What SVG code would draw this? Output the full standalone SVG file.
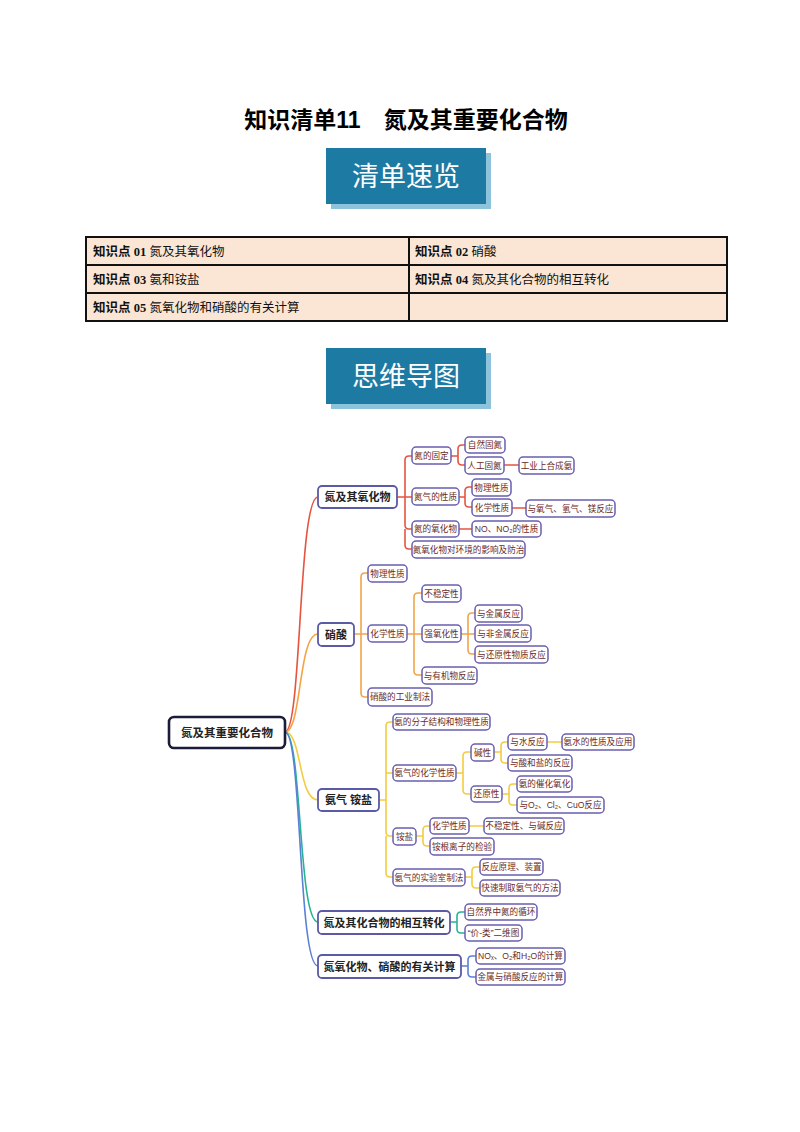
<svg xmlns="http://www.w3.org/2000/svg" width="800" height="1132" viewBox="0 0 800 1132">
<style>
text{font-family:"Liberation Sans","Noto Sans CJK SC",sans-serif}
.title{font-size:23px;font-weight:bold;fill:#000}
.ban{fill:#1d7aa3}.bans{fill:#8ec3dc}
.bt{font-size:27px;fill:#fff;text-anchor:middle}
.cell{fill:#fbe6d5;stroke:#111;stroke-width:2}
.ct{font-size:12.5px;fill:#111}
.cb{font-weight:bold;font-family:"Liberation Serif","Noto Sans CJK SC",serif}
.n rect{fill:#fff;stroke:#6a5fb0;stroke-width:1.5}
.n text{font-size:8.6px;fill:#6b2b1f;text-anchor:middle}
.m rect{fill:#fff;stroke:#5b5aa6;stroke-width:1.8}
.m text{font-size:11px;font-weight:bold;fill:#222;text-anchor:middle}
.r rect{fill:#fff;stroke:#1b1b3a;stroke-width:2.6}
.r text{font-size:11.5px;font-weight:bold;fill:#222;text-anchor:middle}
#links path{fill:none;stroke-width:1.6}
.red{stroke:#e5543f}.org{stroke:#f2a44a}.yel{stroke:#f3cc3f}.grn{stroke:#27b394}.blu{stroke:#5b80d8}
</style>
<text class="title" x="406" y="128" text-anchor="middle">知识清单11　氮及其重要化合物</text>
<g id="banner1"><rect class="bans" x="331" y="153" width="160" height="56"/><rect class="ban" x="326" y="148" width="160" height="56"/><text class="bt" x="406" y="186">清单速览</text></g>
<g id="table">
<rect class="cell" x="86" y="237" width="323" height="28"/><rect class="cell" x="409" y="237" width="318" height="28"/>
<rect class="cell" x="86" y="265" width="323" height="28"/><rect class="cell" x="409" y="265" width="318" height="28"/>
<rect class="cell" x="86" y="293" width="323" height="28"/><rect class="cell" x="409" y="293" width="318" height="28"/>
<text class="ct" x="93" y="256"><tspan class="cb">知识点 01</tspan>  氮及其氧化物</text>
<text class="ct" x="415" y="256"><tspan class="cb">知识点 02</tspan>  硝酸</text>
<text class="ct" x="93" y="284"><tspan class="cb">知识点 03</tspan>  氨和铵盐</text>
<text class="ct" x="415" y="284"><tspan class="cb">知识点 04</tspan>  氮及其化合物的相互转化</text>
<text class="ct" x="93" y="312"><tspan class="cb">知识点 05</tspan>  氮氧化物和硝酸的有关计算</text>
</g>
<g id="banner2"><rect class="bans" x="331" y="353" width="160" height="56"/><rect class="ban" x="326" y="348" width="160" height="56"/><text class="bt" x="406" y="386">思维导图</text></g>

<g id="links">
<path class="red" d="M285,732 C302,732 298,497 318,497"/>
<path class="org" d="M285,732 C302,732 298,634 318,634"/>
<path class="yel" d="M285,732 C302,732 298,800 318,800"/>
<path class="grn" d="M285,732 C302,732 298,922 318,922"/>
<path class="blu" d="M285,732 C302,732 298,966 318,966"/>
<path class="red" d="M397,497 H405 V460 Q405,456 409,456 H412 M405,497 H412 M405,497 V525 Q405,529 409,529 H412 M405,529 V545 Q405,549 409,549 H412"/>
<path class="red" d="M451,456 H458 V449 Q458,445 462,445 H465 M458,456 V461 Q458,465 462,465 H465 M504,465 H519"/>
<path class="red" d="M459,497 H465 V491 Q465,487 469,487 H472 M465,497 V503 Q465,507 469,507 H472 M512,508 H526 M459,529 H472"/>
<path class="org" d="M354,634 H361 V577 Q361,573 365,573 H368 M361,634 H368 M361,634 V693 Q361,697 365,697 H368"/>
<path class="org" d="M407,634 H414 V597 Q414,593 418,593 H422 M414,634 H422 M414,634 V671 Q414,675 418,675 H422"/>
<path class="org" d="M461,634 H468 V617 Q468,613 472,613 H475 M468,634 H475 M468,634 V650 Q468,654 472,654 H475"/>
<path class="yel" d="M379,800 H386 V726 Q386,722 390,722 H393 M386,773 H393 M386,800 V832 Q386,836 390,836 H393 M386,836 V873 Q386,877 390,877 H393"/>
<path class="yel" d="M456,773 H463 V756 Q463,752 467,752 H471 M463,773 V790 Q463,794 467,794 H471"/>
<path class="yel" d="M494,752 H501 V746 Q501,742 505,742 H508 M501,752 V759 Q501,763 505,763 H508 M547,742 H562"/>
<path class="yel" d="M502,794 H509 V788 Q509,784 513,784 H517 M509,794 V801 Q509,805 513,805 H517"/>
<path class="yel" d="M416,836 H423 V830 Q423,826 427,826 H430 M423,836 V842 Q423,846 427,846 H430 M469,826 H484"/>
<path class="yel" d="M465,877 H472 V871 Q472,867 476,867 H480 M472,877 V884 Q472,888 476,888 H480"/>
<path class="grn" d="M450,922 H457 V916 Q457,912 461,912 H465 M457,922 V929 Q457,933 461,933 H465"/>
<path class="blu" d="M461,966 H468 V960 Q468,956 472,956 H476 M468,966 V973 Q468,977 472,977 H476"/>
</g>

<g id="root" class="r"><rect x="169" y="717" width="116" height="31" rx="5"/><text x="227" y="736.5">氮及其重要化合物</text></g>

<g id="m1" class="m"><rect x="318" y="486" width="79" height="22" rx="4"/><text x="357.5" y="501">氮及其氧化物</text></g>
<g id="n_gd" class="n"><rect x="412" y="447" width="39" height="17" rx="4"/><text x="431.5" y="458.5">氮的固定</text></g>
<g id="n_zr" class="n"><rect x="465" y="437" width="40" height="16" rx="4"/><text x="485" y="448">自然固氮</text></g>
<g id="n_rg" class="n"><rect x="465" y="457" width="39" height="17" rx="4"/><text x="484.5" y="468.5">人工固氮</text></g>
<g id="n_gy" class="n"><rect x="519" y="457" width="55" height="17" rx="4"/><text x="546.5" y="468.5">工业上合成氨</text></g>
<g id="n_dq" class="n"><rect x="412" y="488" width="47" height="17" rx="4"/><text x="435.5" y="499.5">氮气的性质</text></g>
<g id="n_wl1" class="n"><rect x="472" y="479" width="39" height="17" rx="4"/><text x="491.5" y="490.5">物理性质</text></g>
<g id="n_hx1" class="n"><rect x="472" y="499" width="40" height="17" rx="4"/><text x="492" y="510.5">化学性质</text></g>
<g id="n_yq" class="n"><rect x="526" y="500" width="89" height="17" rx="4"/><text x="570.5" y="511.5">与氧气、氢气、镁反应</text></g>
<g id="n_yh" class="n"><rect x="412" y="521" width="47" height="16" rx="4"/><text x="435.5" y="532">氮的氧化物</text></g>
<g id="n_no" class="n"><rect x="472" y="521" width="69" height="16" rx="4"/><text x="506.5" y="532">NO、NO₂的性质</text></g>
<g id="n_hj" class="n"><rect x="412" y="541" width="113" height="17" rx="4"/><text x="468.5" y="552.5">氮氧化物对环境的影响及防治</text></g>

<g id="m2" class="m"><rect x="318" y="623" width="36" height="23" rx="4"/><text x="336" y="638.5">硝酸</text></g>
<g id="n_wl2" class="n"><rect x="368" y="565" width="39" height="17" rx="4"/><text x="387.5" y="576.5">物理性质</text></g>
<g id="n_hx2" class="n"><rect x="368" y="625" width="39" height="17" rx="4"/><text x="387.5" y="636.5">化学性质</text></g>
<g id="n_bw" class="n"><rect x="422" y="585" width="39" height="17" rx="4"/><text x="441.5" y="596.5">不稳定性</text></g>
<g id="n_qy" class="n"><rect x="422" y="625" width="39" height="17" rx="4"/><text x="441.5" y="636.5">强氧化性</text></g>
<g id="n_js" class="n"><rect x="475" y="605" width="47" height="17" rx="4"/><text x="498.5" y="616.5">与金属反应</text></g>
<g id="n_fjs" class="n"><rect x="475" y="625" width="56" height="17" rx="4"/><text x="503" y="636.5">与非金属反应</text></g>
<g id="n_hy" class="n"><rect x="475" y="646" width="73" height="17" rx="4"/><text x="511.5" y="657.5">与还原性物质反应</text></g>
<g id="n_yj" class="n"><rect x="422" y="667" width="55" height="17" rx="4"/><text x="449.5" y="678.5">与有机物反应</text></g>
<g id="n_gyz" class="n"><rect x="368" y="688" width="64" height="18" rx="4"/><text x="400" y="700">硝酸的工业制法</text></g>

<g id="m3" class="m"><rect x="318" y="789" width="61" height="22" rx="4"/><text x="348.5" y="804">氨气 铵盐</text></g>
<g id="n_fz" class="n"><rect x="393" y="714" width="97" height="16" rx="4"/><text x="441.5" y="725">氨的分子结构和物理性质</text></g>
<g id="n_aq" class="n"><rect x="393" y="765" width="63" height="16" rx="4"/><text x="424.5" y="776">氨气的化学性质</text></g>
<g id="n_jx" class="n"><rect x="471" y="744" width="23" height="17" rx="4"/><text x="482.5" y="755.5">碱性</text></g>
<g id="n_ys" class="n"><rect x="508" y="734" width="39" height="16" rx="4"/><text x="527.5" y="745">与水反应</text></g>
<g id="n_as" class="n"><rect x="562" y="734" width="72" height="16" rx="4"/><text x="598" y="745">氨水的性质及应用</text></g>
<g id="n_sy" class="n"><rect x="508" y="755" width="64" height="16" rx="4"/><text x="540" y="766">与酸和盐的反应</text></g>
<g id="n_hyx" class="n"><rect x="471" y="786" width="31" height="16" rx="4"/><text x="486.5" y="797">还原性</text></g>
<g id="n_ch" class="n"><rect x="517" y="776" width="55" height="16" rx="4"/><text x="544.5" y="787">氨的催化氧化</text></g>
<g id="n_o2" class="n"><rect x="517" y="797" width="87" height="16" rx="4"/><text x="560.5" y="808">与O₂、Cl₂、CuO反应</text></g>
<g id="n_ay" class="n"><rect x="393" y="828" width="23" height="17" rx="4"/><text x="404.5" y="839.5">铵盐</text></g>
<g id="n_hx3" class="n"><rect x="430" y="818" width="39" height="16" rx="4"/><text x="449.5" y="829">化学性质</text></g>
<g id="n_bw2" class="n"><rect x="484" y="818" width="80" height="16" rx="4"/><text x="524" y="829">不稳定性、与碱反应</text></g>
<g id="n_jy" class="n"><rect x="430" y="838" width="64" height="17" rx="4"/><text x="462" y="849.5">铵根离子的检验</text></g>
<g id="n_sys" class="n"><rect x="393" y="869" width="72" height="17" rx="4"/><text x="429" y="880.5">氨气的实验室制法</text></g>
<g id="n_yl" class="n"><rect x="480" y="859" width="63" height="16" rx="4"/><text x="511.5" y="870">反应原理、装置</text></g>
<g id="n_ks" class="n"><rect x="480" y="880" width="80" height="16" rx="4"/><text x="520" y="891">快速制取氨气的方法</text></g>

<g id="m4" class="m"><rect x="318" y="911" width="132" height="23" rx="4"/><text x="384" y="926.5">氮及其化合物的相互转化</text></g>
<g id="n_xh" class="n"><rect x="465" y="904" width="72" height="16" rx="4"/><text x="501" y="915">自然界中氮的循环</text></g>
<g id="n_jl" class="n"><rect x="465" y="925" width="57" height="16" rx="4"/><text x="493.5" y="936">“价-类”二维图</text></g>

<g id="m5" class="m"><rect x="318" y="955" width="143" height="23" rx="4"/><text x="389.5" y="970.5">氮氧化物、硝酸的有关计算</text></g>
<g id="n_nox" class="n"><rect x="476" y="948" width="89" height="16" rx="4"/><text x="520.5" y="959">NOₓ、O₂和H₂O的计算</text></g>
<g id="n_jsx" class="n"><rect x="476" y="969" width="89" height="16" rx="4"/><text x="520.5" y="980">金属与硝酸反应的计算</text></g>
</svg>
